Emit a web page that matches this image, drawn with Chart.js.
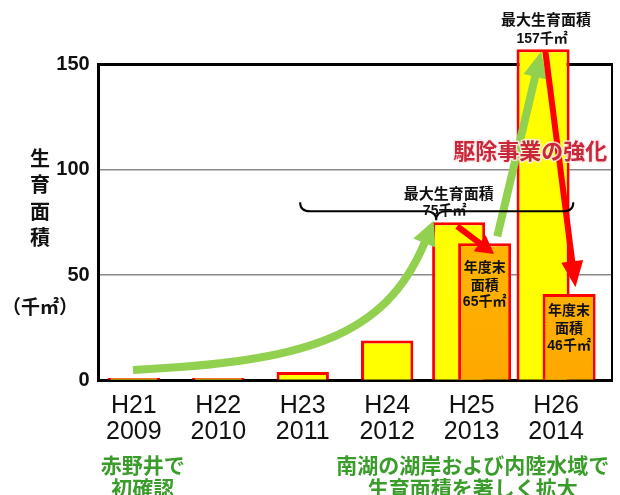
<!DOCTYPE html>
<html><head><meta charset="utf-8">
<script src="https://cdn.jsdelivr.net/npm/chart.js@4.4.1/dist/chart.umd.min.js"></script>
<style>html,body{margin:0;padding:0;background:#fff}#wrap{width:620px;height:495px;position:relative}</style>
</head><body><div id="wrap"><canvas id="c" width="620" height="495"></canvas></div>
<script>
// ---- data ----
const categories = ['H21','H22','H23','H24','H25','H26'];
const yearsAD = ['2009','2010','2011','2012','2013','2014'];
const growthArea = [1.2, 1.2, 4, 19, null, null];      // 生育面積 (千㎡)
const maxArea = [null, null, null, null, 75, 157];      // 最大生育面積
const yearEndArea = [null, null, null, null, 65, 41];   // 年度末面積 (as drawn)
const maxLabels = ['75千㎡', '157千㎡'];
const yearEndLabels = ['65千㎡', '46千㎡'];
const yTicks = [0, 50, 100, 150];

const X_MIN = -0.416, X_MAX = 5.662;
const CJK = "'Noto Sans CJK JP'";
const YE_INDEX = 2;
const toPts = arr => arr.map((v, i) => ({x: i, y: v})).filter(d => d.y !== null);

function yearEndFill(c) {
  const ch = c.chart, a = ch.chartArea;
  if (!a) return '#ffb400';
  const g = ch.ctx.createLinearGradient(0, a.top, 0, a.bottom);
  g.addColorStop(0, '#ffc400'); g.addColorStop(1, '#ffa800');
  return g;
}

function arrowHead(ctx, bx, by, tx, ty, w, color) {
  const dx = tx - bx, dy = ty - by, L = Math.hypot(dx, dy);
  const nx = -dy / L, ny = dx / L;
  ctx.fillStyle = color;
  ctx.beginPath();
  ctx.moveTo(tx, ty);
  ctx.lineTo(bx + nx * w / 2, by + ny * w / 2);
  ctx.lineTo(bx - nx * w / 2, by - ny * w / 2);
  ctx.closePath(); ctx.fill();
}

const annotations = {
  id: 'annotations',
  beforeDatasetDraw(chart, args) {
    // year-end bars are drawn later so they sit on top of the max bars
    if (args.index === YE_INDEX) return false;
  },
  afterDatasetsDraw(chart) {
    const ctx = chart.ctx, xs = chart.scales.x, ys = chart.scales.y;
    chart.getDatasetMeta(YE_INDEX).controller.draw();
    const px = v => xs.getPixelForValue(v), py = v => ys.getPixelForValue(v);
    ctx.save();
    ctx.lineCap = 'butt';

    // green curved arrow (growth)
    const g0 = [px(-0.01), py(5)], g1 = [px(1.969), py(8.8)], g2 = [px(2.976), py(19.3)], g3 = [px(3.45), py(66)];
    ctx.strokeStyle = '#92d050'; ctx.lineWidth = 8;
    ctx.beginPath(); ctx.moveTo(g0[0], g0[1]);
    ctx.bezierCurveTo(g1[0], g1[1], g2[0], g2[1], g3[0], g3[1]); ctx.stroke();
    {
      const dx = g3[0] - g2[0], dy = g3[1] - g2[1], L = Math.hypot(dx, dy);
      arrowHead(ctx, g3[0] - dx / L * 2, g3[1] - dy / L * 2, g3[0] + dx / L * 22, g3[1] + dy / L * 22, 24, '#92d050');
    }
    // green straight arrow H25 -> H26
    {
      const s = [px(4.303), py(68.3)], b = [px(4.758), py(144.9)];
      ctx.beginPath(); ctx.moveTo(s[0], s[1]); ctx.lineTo(b[0], b[1]); ctx.stroke();
      const dx = b[0] - s[0], dy = b[1] - s[1], L = Math.hypot(dx, dy);
      arrowHead(ctx, b[0] - dx / L * 2, b[1] - dy / L * 2, b[0] + dx / L * 24, b[1] + dy / L * 24, 24, '#92d050');
    }
    // red arrows (decline)
    ctx.strokeStyle = '#ff0000'; ctx.lineWidth = 6;
    [[3.829, 73.1, 4.114, 64.5, 16, 20], [4.872, 156.4, 5.194, 55.5, 24, 22]].forEach(a => {
      const s = [px(a[0]), py(a[1])], b = [px(a[2]), py(a[3])];
      ctx.beginPath(); ctx.moveTo(s[0], s[1]); ctx.lineTo(b[0], b[1]); ctx.stroke();
      const dx = b[0] - s[0], dy = b[1] - s[1], L = Math.hypot(dx, dy);
      arrowHead(ctx, b[0] - dx / L * 2, b[1] - dy / L * 2, b[0] + dx / L * a[4], b[1] + dy / L * a[4], a[5], '#ff0000');
    });

    // curly brace
    {
      const L = px(1.969), R = px(5.204), M = px(3.58), base = py(80.2), top = py(84.5), pt = py(75.9), r = 10;
      ctx.strokeStyle = '#000'; ctx.lineWidth = 2;
      ctx.beginPath();
      ctx.moveTo(L, top);
      ctx.quadraticCurveTo(L, base, L + r, base);
      ctx.lineTo(M - r, base);
      ctx.quadraticCurveTo(M, base, M, pt);
      ctx.quadraticCurveTo(M, base, M + r, base);
      ctx.lineTo(R - r, base);
      ctx.quadraticCurveTo(R, base, R, top);
      ctx.stroke();
    }

    ctx.textAlign = 'center'; ctx.textBaseline = 'middle';
    const maxMeta = chart.getDatasetMeta(1).data, yeMeta = chart.getDatasetMeta(YE_INDEX).data;
    // max labels
    ctx.fillStyle = '#111';
    const maxOffsets = [[-10, -29, -11], [3, -30, -10]];
    maxMeta.forEach((el, i) => {
      const o = maxOffsets[i];
      ctx.font = `bold 15px ${CJK}`;
      ctx.fillText('最大生育面積', el.x + o[0], el.y + o[1]);
      ctx.font = `bold 14px 'Liberation Sans', ${CJK}`;
      ctx.fillText(maxLabels[i], el.x + o[0] - 4, el.y + o[2]);
    });
    // year-end labels
    const yeOffsets = [23, 16];
    yeMeta.forEach((el, i) => {
      const y0 = el.y + yeOffsets[i];
      ctx.font = `bold 14px ${CJK}`;
      ctx.fillText('年度末', el.x, y0);
      ctx.fillText('面積', el.x, y0 + 18);
      ctx.font = `bold 14px 'Liberation Sans', ${CJK}`;
      ctx.fillText(yearEndLabels[i], el.x, y0 + 36);
    });

    // 駆除事業の強化
    ctx.font = `bold 22px ${CJK}`;
    ctx.lineWidth = 3; ctx.strokeStyle = 'rgba(255,235,235,0.85)'; ctx.lineJoin = 'round';
    ctx.strokeText('駆除事業の強化', px(4.694), py(108.8));
    ctx.fillStyle = '#c8283a';
    ctx.fillText('駆除事業の強化', px(4.694), py(108.8));

    ctx.restore();
  },
  afterDraw(chart) {
    const ctx = chart.ctx, xs = chart.scales.x;
    ctx.save();
    ctx.textAlign = 'center'; ctx.textBaseline = 'middle';
    // y-axis title (vertical)
    ctx.fillStyle = '#111';
    ctx.font = `bold 20px ${CJK}`;
    ['生', '育', '面', '積'].forEach((ch, i) => ctx.fillText(ch, 40, 158 + i * 26.5));
    ctx.font = `bold 19px ${CJK}`;
    ctx.fillText('（千㎡）', 40, 307);
    // bottom notes
    ctx.fillStyle = '#3a9c2a';
    ctx.font = `bold 21px ${CJK}`;
    ctx.fillText('赤野井で', xs.getPixelForValue(0) + 9, 465);
    ctx.fillText('初確認', xs.getPixelForValue(0) + 9, 488);
    ctx.fillText('南湖の湖岸および内陸水域で', xs.getPixelForValue(4) + 1, 465);
    ctx.fillText('生育面積を著しく拡大', xs.getPixelForValue(4) + 1, 488);
    ctx.restore();
  }
};

new Chart(document.getElementById('c'), {
  type: 'bar',
  data: {
    datasets: [
      { label: '生育面積', data: toPts(growthArea), grouped: false,
        backgroundColor: '#ffff00', borderColor: '#ff0000', borderWidth: 3,
        categoryPercentage: 1, barPercentage: 0.62 },
      { label: '最大生育面積', data: toPts(maxArea),
        backgroundColor: '#ffff00', borderColor: '#ff0000', borderWidth: 3,
        categoryPercentage: 0.616, barPercentage: 2.04, clip: false },
      { label: '年度末面積', data: toPts(yearEndArea),
        backgroundColor: yearEndFill, borderColor: '#ff0000', borderWidth: 3,
        categoryPercentage: 0.616, barPercentage: 2.04, clip: false }
    ]
  },
  options: {
    responsive: false, animation: false,
    layout: { padding: { top: 64, left: 0, right: 0, bottom: 0 } },
    plugins: { legend: { display: false }, tooltip: { enabled: false } },
    scales: {
      x: {
        type: 'linear', position: 'bottom', min: X_MIN, max: X_MAX, offset: false,
        grid: { display: false },
        border: { color: '#000', width: 3 },
        afterBuildTicks: s => { s.ticks = categories.map((c, i) => ({ value: i })); },
        ticks: {
          stepSize: 1, includeBounds: false, autoSkip: false, maxRotation: 0, padding: 4,
          color: '#111', font: { family: "'Liberation Sans'", size: 25, lineHeight: 1.05 },
          callback: v => Number.isInteger(v) ? [categories[v], yearsAD[v]] : ''
        },
        afterFit: s => { s.height = 114.5; }
      },
      y: {
        type: 'linear', position: 'left', min: 0, max: 150,
        afterBuildTicks: s => { s.ticks = yTicks.map(v => ({ value: v })); },
        grid: {
          drawTicks: false,
          color: c => c.tick && c.tick.value === 150 ? '#000' : (c.tick && c.tick.value === 0 ? 'rgba(0,0,0,0)' : '#8a8a8a'),
          lineWidth: c => c.tick && c.tick.value === 150 ? 3 : 1.5
        },
        border: { color: '#000', width: 3 },
        ticks: { padding: 9, color: '#111', font: { family: "'Liberation Sans'", size: 20, weight: 'bold' } },
        afterFit: s => { s.width = 98.7; }
      },
      y2: {
        type: 'linear', position: 'right', min: 0, max: 150,
        grid: { display: false },
        ticks: { display: false },
        border: { color: '#000', width: 2 },
        afterFit: s => { s.width = 8; }
      }
    }
  },
  plugins: [annotations]
});
</script>
</body></html>
